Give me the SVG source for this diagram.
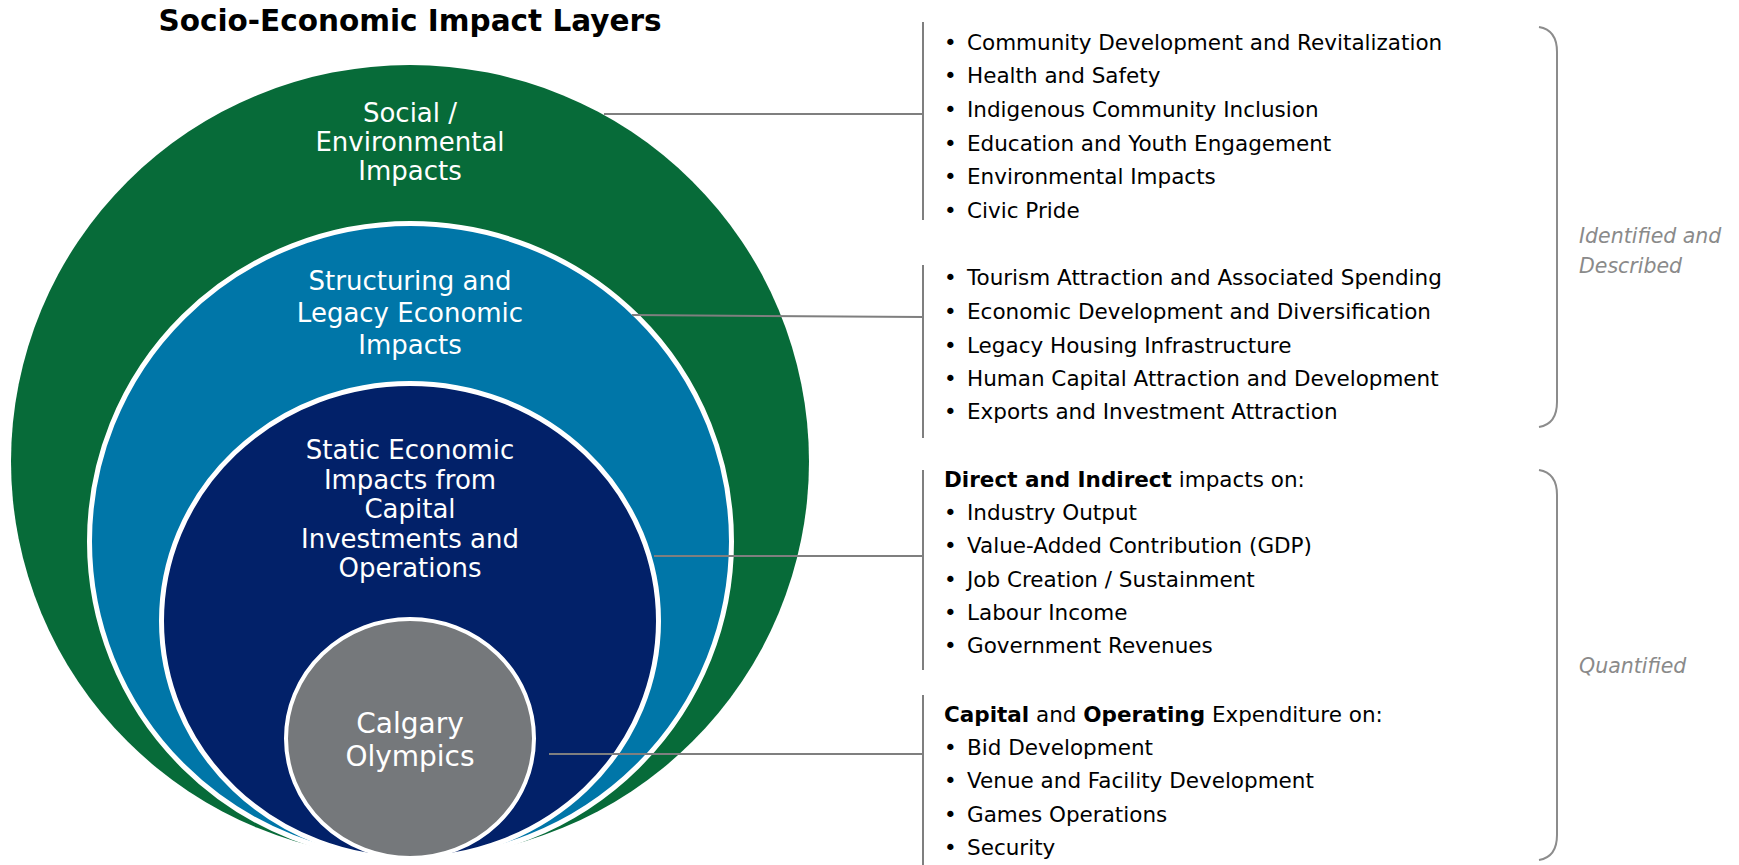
<svg xmlns="http://www.w3.org/2000/svg" width="1739" height="865" viewBox="0 0 1739 865">
  <style>
    .title { font-family: "DejaVu Sans", Verdana, sans-serif; font-size: 29.5px; font-weight: bold; fill: #000; }
    .layer { font-family: "DejaVu Sans", Verdana, sans-serif; font-size: 26px; fill: #fff; text-anchor: middle; }
    .core { font-family: "DejaVu Sans", Verdana, sans-serif; font-size: 28px; fill: #fff; text-anchor: middle; }
    .item { font-family: "DejaVu Sans", Verdana, sans-serif; font-size: 21.5px; fill: #000; }
    .item .b { font-weight: bold; }
    .tag { font-family: "DejaVu Sans", Verdana, sans-serif; font-size: 20.5px; font-style: italic; fill: #8A8A8A; }
    .link { stroke: #7F7F7F; stroke-width: 2; fill: none; }
    .brace { stroke: #8C8C8C; stroke-width: 2; fill: none; }
    .ring { stroke: #fff; }
  </style>

  <text class="title" x="410" y="31" text-anchor="middle">Socio-Economic Impact Layers</text>

  <!-- nested impact layers -->
  <g id="layer-social">
    <ellipse cx="410" cy="461.5" rx="399" ry="396.5" fill="#076B39"/>
    <text class="layer" x="410" y="122">Social /</text>
    <text class="layer" x="410" y="151">Environmental</text>
    <text class="layer" x="410" y="180">Impacts</text>
  </g>

  <g id="layer-structuring">
    <ellipse class="ring" cx="410.5" cy="541.5" rx="321" ry="318" fill="#0076A8" stroke-width="5"/>
    <text class="layer" x="410" y="290">Structuring and</text>
    <text class="layer" x="410" y="322">Legacy Economic</text>
    <text class="layer" x="410" y="354">Impacts</text>
  </g>

  <g id="layer-static">
    <ellipse class="ring" cx="410" cy="621" rx="248.5" ry="237.5" fill="#022169" stroke-width="5"/>
    <text class="layer" x="410" y="459">Static Economic</text>
    <text class="layer" x="410" y="489">Impacts from</text>
    <text class="layer" x="410" y="518">Capital</text>
    <text class="layer" x="410" y="548">Investments and</text>
    <text class="layer" x="410" y="577">Operations</text>
  </g>

  <g id="core-olympics">
    <ellipse class="ring" cx="410" cy="738.5" rx="124" ry="119.5" fill="#75787B" stroke-width="4"/>
    <text class="core" x="410" y="733">Calgary</text>
    <text class="core" x="410" y="766">Olympics</text>
  </g>

  <!-- leader lines and list spines -->
  <g id="connectors">
    <line class="link" x1="604" y1="114" x2="923" y2="114"/>
    <line class="link" x1="632" y1="315" x2="923" y2="317"/>
    <line class="link" x1="654" y1="556" x2="923" y2="556"/>
    <line class="link" x1="549" y1="754" x2="923" y2="754"/>
    <line class="link" x1="923" y1="22" x2="923" y2="220"/>
    <line class="link" x1="923" y1="265" x2="923" y2="438"/>
    <line class="link" x1="923" y1="470" x2="923" y2="670"/>
    <line class="link" x1="923" y1="695" x2="923" y2="865"/>
  </g>

  <g id="list-social" class="item">
    <text x="944" y="50">•</text><text x="967" y="50">Community Development and Revitalization</text>
    <text x="944" y="83">•</text><text x="967" y="83">Health and Safety</text>
    <text x="944" y="117">•</text><text x="967" y="117">Indigenous Community Inclusion</text>
    <text x="944" y="151">•</text><text x="967" y="151">Education and Youth Engagement</text>
    <text x="944" y="184">•</text><text x="967" y="184">Environmental Impacts</text>
    <text x="944" y="218">•</text><text x="967" y="218">Civic Pride</text>
  </g>

  <g id="list-structuring" class="item">
    <text x="944" y="285">•</text><text x="967" y="285">Tourism Attraction and Associated Spending</text>
    <text x="944" y="319">•</text><text x="967" y="319">Economic Development and Diversification</text>
    <text x="944" y="353">•</text><text x="967" y="353">Legacy Housing Infrastructure</text>
    <text x="944" y="386">•</text><text x="967" y="386">Human Capital Attraction and Development</text>
    <text x="944" y="419">•</text><text x="967" y="419">Exports and Investment Attraction</text>
  </g>

  <g id="list-static" class="item">
    <text x="944" y="487"><tspan class="b">Direct and Indirect</tspan> impacts on:</text>
    <text x="944" y="520">•</text><text x="967" y="520">Industry Output</text>
    <text x="944" y="553">•</text><text x="967" y="553">Value-Added Contribution (GDP)</text>
    <text x="944" y="587">•</text><text x="967" y="587">Job Creation / Sustainment</text>
    <text x="944" y="620">•</text><text x="967" y="620">Labour Income</text>
    <text x="944" y="653">•</text><text x="967" y="653">Government Revenues</text>
  </g>

  <g id="list-olympics" class="item">
    <text x="944" y="722"><tspan class="b">Capital</tspan> and <tspan class="b">Operating</tspan> Expenditure on:</text>
    <text x="944" y="755">•</text><text x="967" y="755">Bid Development</text>
    <text x="944" y="788">•</text><text x="967" y="788">Venue and Facility Development</text>
    <text x="944" y="822">•</text><text x="967" y="822">Games Operations</text>
    <text x="944" y="855">•</text><text x="967" y="855">Security</text>
  </g>

  <!-- grouping braces -->
  <g id="group-described">
    <path class="brace" d="M1539,27 Q1557,30 1557,52 V402 Q1557,424 1539,427"/>
    <text class="tag" x="1579" y="243">Identified and</text>
    <text class="tag" x="1579" y="273">Described</text>
  </g>

  <g id="group-quantified">
    <path class="brace" d="M1539,470 Q1557,473 1557,495 V835 Q1557,857 1539,860"/>
    <text class="tag" x="1579" y="673">Quantified</text>
  </g>
</svg>
